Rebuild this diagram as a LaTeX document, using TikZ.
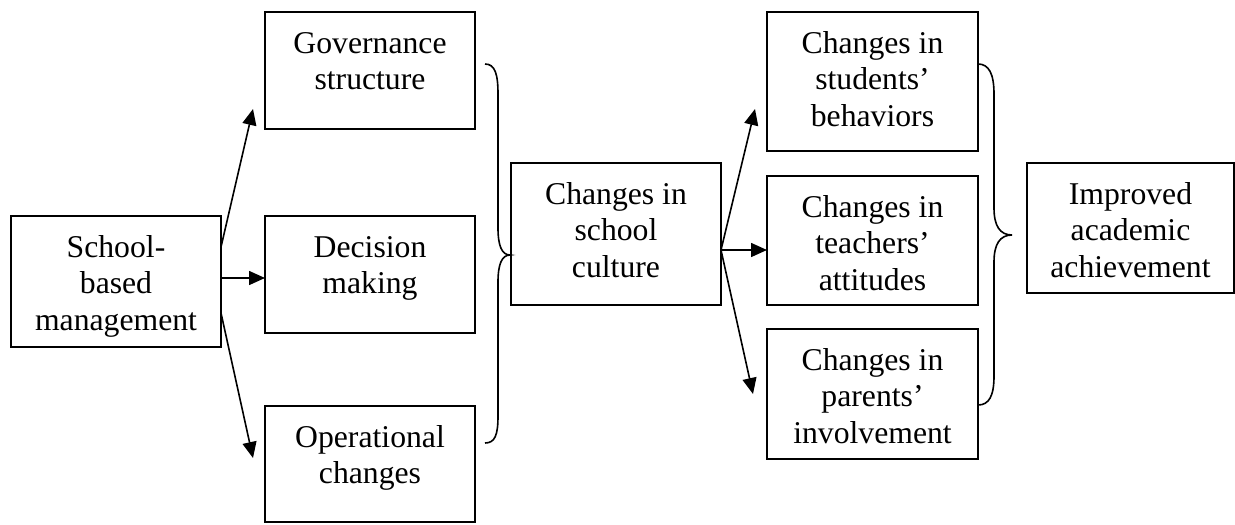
\documentclass[tikz,border=0pt]{standalone}
\usepackage{fontspec}
\setmainfont{Liberation Serif}
\usetikzlibrary{arrows.meta,calc}
\newcommand\bxt[3]{\parbox[t][#2pt][t]{#1pt}{\centering\rule{0pt}{41pt}#3}}
\tikzset{
  box/.style={draw, line width=1.7pt, inner sep=0pt, outer sep=0pt, anchor=north west,
    font=\fontsize{31.7}{36.5}\selectfont},
  conn/.style={line width=1.6pt, -{Triangle[length=16pt,width=14pt]}},
  brc/.style={line width=1.6pt},
}
\begin{document}
\begin{tikzpicture}[x=1pt,y=-1pt]
\useasboundingbox (0,0) rectangle (1235,525);
\node[box] (sbm) at (11,216) {\bxt{210}{131}{School-\\based\\management}};
\node[box] (gov) at (265,12) {\bxt{210}{117}{Governance\\structure}};
\node[box] (dec) at (265,216) {\bxt{210}{117}{Decision\\making}};
\node[box] (ope) at (265,406) {\bxt{210}{116}{Operational\\changes}};
\node[box] (cul) at (511,163) {\bxt{210}{142}{Changes in\\school\\culture}};
\node[box] (stu) at (767,12) {\bxt{211}{139}{Changes in\\students’\\behaviors}};
\node[box] (tea) at (767,176) {\bxt{211}{129}{Changes in\\teachers’\\attitudes}};
\node[box] (par) at (767,329) {\bxt{211}{130}{Changes in\\parents’\\involvement}};
\node[box] (imp) at (1027,163) {\bxt{207}{130}{Improved\\academic\\achievement}};

\draw[conn] ($(sbm.north east)+(0,31)$) -- ($(gov.south west)+(-12,-20)$);
\draw[conn] ($(sbm.north east)+(0,62)$) -- ($(dec.north west)+(0,62)$);
\draw[conn] ($(sbm.north east)+(0,97)$) -- ($(ope.north west)+(-12,52)$);

\draw[conn] ($(cul.north east)+(0,87)$) -- ($(stu.south west)+(-12,-42)$);
\draw[conn] ($(cul.north east)+(0,87)$) -- ($(tea.north west)+(0,74)$);
\draw[conn] ($(cul.north east)+(0,87)$) -- ($(par.north west)+(-14,65)$);

% brace 1
\draw[brc] (485,64) .. controls (495,64) and (498,74) .. (498,94) -- (498,228)
  .. controls (498,246) and (502,255) .. (510,255)
  .. controls (502,255) and (498,264) .. (498,282) -- (498,416)
  .. controls (498,435) and (495,443) .. (485,443);
% brace 2
\draw[brc] (978,64) .. controls (989,64) and (994,74) .. (994,94) -- (994,208)
  .. controls (994,226) and (1000,235) .. (1012,235)
  .. controls (1000,235) and (994,244) .. (994,262) -- (994,376)
  .. controls (994,396) and (989,405) .. (978,405);
\end{tikzpicture}
\end{document}
